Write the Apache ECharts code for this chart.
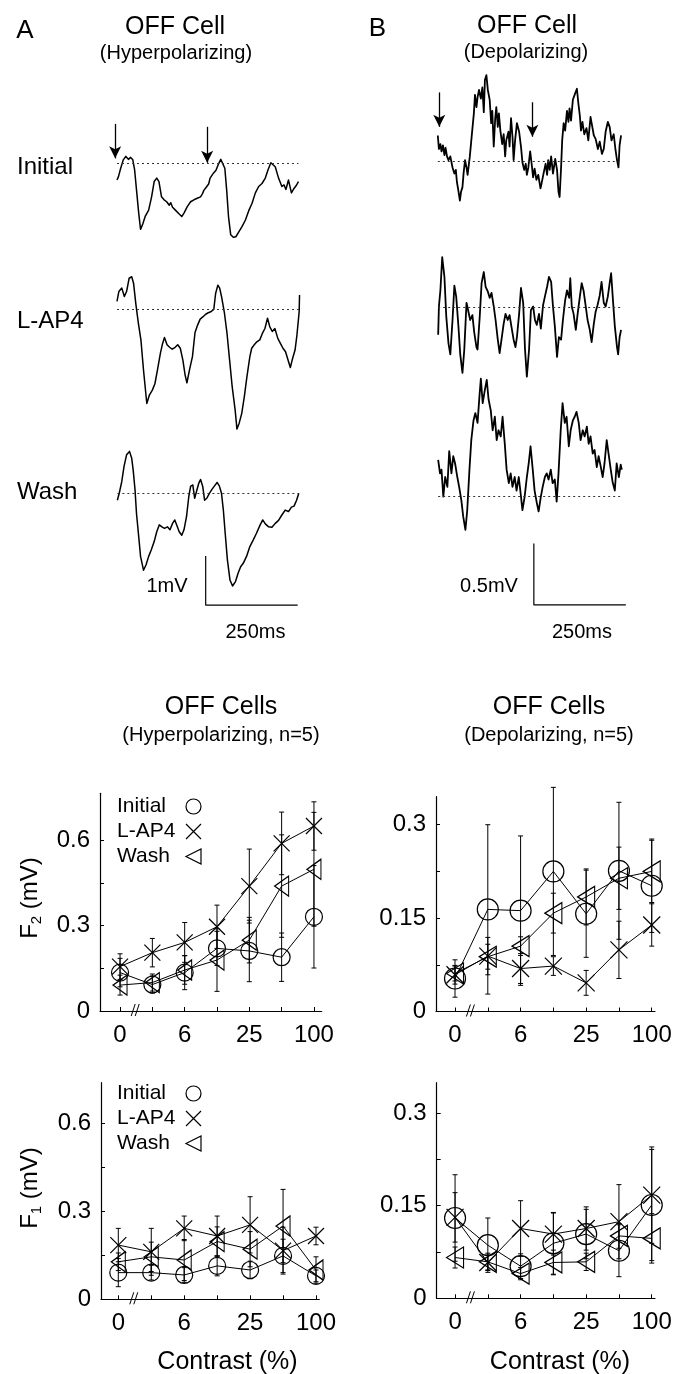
<!DOCTYPE html>
<html><head><meta charset="utf-8">
<script src="https://cdn.jsdelivr.net/npm/echarts@6/dist/echarts.min.js"></script>
<style>html,body{margin:0;padding:0;background:#fff}#c{width:680px;height:1374px}</style>
</head><body><div id="c"></div>
<script>
// ---------------- DATA ----------------
// Voltage traces: [time (ms), voltage relative to resting baseline (mV)]
const aInitial = [[0,-0.34],[4,-0.27],[10,-0.10],[17,0.07],[24,0.14],[31,0.08],[37,0.12],[43,0.07],[48,-0.14],[53,-0.54],[59,-1.01],[64,-1.34],[70,-1.23],[77,-1.07],[86,-0.95],[94,-0.68],[101,-0.37],[108,-0.30],[114,-0.37],[121,-0.68],[128,-0.74],[135,-0.78],[142,-0.85],[146,-0.80],[151,-0.89],[156,-0.86],[160,-0.96],[165,-0.93],[169,-1.03],[176,-1.08],[182,-1.01],[191,-0.88],[196,-0.84],[200,-0.78],[205,-0.80],[209,-0.74],[214,-0.76],[218,-0.71],[222,-0.73],[227,-0.68],[232,-0.62],[236,-0.55],[240,-0.57],[244,-0.47],[249,-0.42],[253,-0.30],[258,-0.28],[262,-0.20],[269,-0.14],[276,-0.01],[282,0.08],[287,0.12],[293,-0.10],[298,-0.54],[303,-1.08],[309,-1.45],[316,-1.50],[323,-1.49],[331,-1.39],[340,-1.28],[345,-1.24],[349,-1.15],[358,-0.96],[363,-0.92],[367,-0.81],[376,-0.60],[380,-0.62],[385,-0.47],[390,-0.49],[394,-0.41],[403,-0.30],[410,-0.14],[418,0.01],[423,0.04],[430,-0.07],[439,-0.30],[448,-0.47],[454,-0.44],[459,-0.53],[466,-0.34],[474,-0.60],[481,-0.51],[488,-0.44],[493,-0.37]];
const aLap4 = [[0,0.16],[5,0.36],[13,0.43],[20,0.26],[26,0.36],[33,0.63],[40,0.66],[45,0.53],[51,0.12],[58,-0.28],[65,-0.62],[72,-1.23],[81,-1.91],[88,-1.74],[96,-1.64],[103,-1.51],[110,-1.23],[118,-0.89],[123,-0.72],[129,-0.57],[136,-0.72],[143,-0.77],[150,-0.81],[158,-0.77],[165,-0.72],[172,-0.79],[179,-1.03],[185,-1.33],[190,-1.49],[197,-1.23],[205,-0.96],[212,-0.47],[219,-0.32],[226,-0.20],[234,-0.15],[241,-0.10],[248,-0.07],[255,-0.05],[263,0.0],[268,0.32],[274,0.49],[279,0.43],[284,0.26],[292,-0.08],[299,-0.49],[306,-1.03],[313,-1.57],[321,-2.04],[326,-2.43],[332,-2.31],[339,-2.11],[346,-1.77],[353,-1.37],[361,-0.96],[366,-0.79],[373,-0.72],[380,-0.66],[388,-0.62],[395,-0.49],[402,-0.39],[409,-0.18],[415,-0.35],[422,-0.45],[429,-0.39],[437,-0.59],[444,-0.69],[451,-0.79],[458,-0.86],[466,-1.06],[471,-1.18],[476,-1.03],[484,-0.82],[489,-0.52],[495,-0.05],[496,0.29]];
const aWash = [[1,-0.14],[6,0],[13,0.24],[19,0.54],[26,0.78],[34,0.85],[40,0.71],[44,0.47],[49,0.07],[53,-0.41],[59,-0.88],[64,-1.28],[72,-1.56],[79,-1.45],[86,-1.28],[93,-1.15],[101,-0.98],[108,-0.78],[115,-0.64],[122,-0.68],[129,-0.71],[137,-0.68],[144,-0.74],[151,-0.61],[157,-0.54],[162,-0.64],[169,-0.78],[176,-0.85],[182,-0.74],[189,-0.47],[195,-0.07],[200,0.14],[206,0.17],[211,-0.10],[216,-0.07],[222,0.20],[227,0.28],[233,0.14],[238,-0.14],[244,-0.10],[251,0],[258,0.08],[265,0.15],[272,0.22],[278,0.15],[284,0],[289,-0.34],[294,-0.81],[300,-1.35],[307,-1.76],[314,-1.88],[322,-1.79],[329,-1.62],[336,-1.49],[343,-1.42],[352,-1.28],[361,-1.08],[370,-0.95],[379,-0.81],[389,-0.64],[396,-0.54],[403,-0.62],[412,-0.68],[421,-0.69],[430,-0.61],[439,-0.55],[448,-0.44],[457,-0.34],[466,-0.37],[474,-0.28],[481,-0.26],[488,-0.14],[494,0]];
const bInitial = [[3,0.21],[6,0.10],[10,0.14],[13,0.08],[17,0.13],[21,0.05],[24,0.11],[28,0.04],[32,0.01],[37,0.04],[43,-0.05],[48,-0.10],[52,-0.07],[55,-0.17],[59,-0.24],[63,-0.32],[66,-0.25],[70,-0.21],[73,-0.10],[77,0.01],[81,-0.05],[84,-0.11],[90,0.04],[95,0.20],[101,0.39],[104,0.54],[108,0.44],[111,0.52],[115,0.58],[120,0.51],[124,0.60],[128,0.40],[131,0.66],[135,0.70],[139,0.58],[144,0.50],[148,0.31],[151,0.41],[155,0.12],[159,0.35],[162,0.44],[166,0.28],[169,0.39],[173,0.25],[178,0.14],[182,0.22],[186,0.04],[189,0.17],[195,0.24],[198,0.12],[202,0.35],[206,0.20],[209,0.01],[213,0.17],[218,0.31],[224,0.24],[229,0.12],[233,-0.01],[238,-0.07],[242,-0.02],[245,-0.11],[249,-0.05],[254,0.08],[258,-0.02],[262,-0.13],[266,-0.06],[271,-0.15],[276,-0.11],[282,-0.22],[285,-0.18],[291,-0.09],[296,-0.02],[300,-0.11],[303,0.01],[307,-0.07],[311,0.04],[316,-0.10],[322,0.02],[327,-0.07],[331,-0.25],[334,-0.29],[338,-0.05],[341,0.17],[345,0.31],[349,0.25],[354,0.41],[358,0.32],[361,0.43],[365,0.33],[370,0.50],[376,0.55],[381,0.59],[385,0.47],[389,0.37],[392,0.25],[396,0.32],[401,0.22],[407,0.27],[412,0.17],[418,0.36],[421,0.31],[427,0.21],[432,0.18],[438,0.10],[443,0.16],[449,0.06],[454,0.10],[459,0.24],[465,0.32],[470,0.28],[475,0.17],[481,0.22],[486,0.09],[490,0.01],[494,-0.05],[497,0.13],[501,0.21]];
const bLap4 = [[4,-0.22],[6,0.01],[10,0.14],[15,0.41],[21,0.25],[26,-0.07],[32,-0.29],[37,-0.38],[43,-0.10],[48,0.18],[53,0.09],[59,-0.15],[64,-0.38],[70,-0.53],[75,-0.34],[81,0.04],[86,0.05],[91,-0.10],[97,-0.06],[102,-0.20],[108,-0.32],[111,-0.34],[117,-0.07],[122,0.20],[128,0.29],[133,0.17],[139,0.13],[144,0.08],[149,0.12],[155,0.01],[160,-0.10],[166,-0.26],[171,-0.37],[177,-0.24],[182,-0.13],[187,-0.05],[193,-0.10],[198,-0.06],[204,-0.17],[209,-0.26],[214,-0.32],[218,-0.24],[224,-0.05],[229,0.16],[235,0.04],[240,-0.34],[245,-0.56],[251,-0.34],[256,-0.02],[262,0.01],[267,-0.10],[272,-0.14],[278,-0.05],[283,-0.17],[289,0.02],[294,0.09],[300,0.17],[305,0.25],[311,0.21],[316,0.01],[321,-0.15],[327,-0.40],[332,-0.24],[338,-0.26],[343,-0.10],[349,0.06],[354,0.14],[360,0.08],[363,0.24],[367,0.01],[372,-0.05],[378,-0.18],[383,-0.05],[389,0.09],[394,0.20],[399,0.14],[405,0.01],[410,-0.10],[416,-0.18],[421,-0.28],[427,-0.13],[432,-0.03],[437,0.02],[443,0.10],[448,0.21],[454,0.04],[459,0.01],[465,0.09],[470,0.20],[474,0.28],[479,0.06],[484,-0.15],[490,-0.32],[493,-0.38],[497,-0.24],[501,-0.18]];
const bWash = [[4,0.30],[9,0.19],[13,0.22],[18,0.0],[23,0.16],[29,0.08],[34,0.37],[40,0.19],[45,0.33],[50,0.27],[56,0.16],[61,0.08],[67,-0.03],[72,-0.16],[78,-0.27],[83,-0.11],[89,0.22],[94,0.46],[100,0.62],[105,0.68],[111,0.60],[116,0.81],[120,0.96],[125,0.76],[131,0.87],[136,0.95],[141,0.79],[147,0.70],[152,0.54],[158,0.65],[163,0.46],[168,0.54],[174,0.49],[179,0.65],[185,0.43],[190,0.22],[196,0.11],[201,0.19],[206,0.08],[212,0.16],[217,0.05],[223,0.16],[228,0.03],[233,-0.11],[239,0.0],[245,0.16],[250,0.27],[255,0.41],[261,0.22],[266,0.05],[272,-0.05],[277,-0.12],[283,0.0],[288,0.08],[294,0.16],[299,0.19],[304,0.14],[310,0.22],[315,0.11],[321,0.14],[326,-0.04],[331,0.19],[337,0.54],[342,0.76],[348,0.60],[353,0.65],[359,0.41],[364,0.54],[370,0.62],[375,0.65],[380,0.69],[386,0.60],[391,0.46],[397,0.54],[402,0.49],[408,0.57],[413,0.43],[418,0.49],[424,0.35],[429,0.38],[435,0.24],[440,0.33],[446,0.24],[451,0.16],[456,0.27],[462,0.46],[467,0.35],[473,0.22],[478,0.12],[484,0.05],[489,0.27],[495,0.16],[500,0.26],[503,0.22]];

// Stimulus arrows: [time (ms), arrow top (mV), arrow tip (mV)]
const stimA = [[-5, 0.80, 0.10], [245, 0.74, 0.01]];
const stimB = [[7, 0.56, 0.28], [260, 0.48, 0.20]];
// Scale bars: start time, start voltage, duration, amplitude
const scaleA = {t0: 241, v0: -2.27, dt: 250, dv: 1};
const scaleB = {t0: 264, v0: -0.88, dt: 250, dv: 0.5};

// Contrast categories (7 levels, only 4 labelled)
const contrastIndex = [0, 1, 2, 3, 4, 5, 6];
const contrastTickLabels = ['0', '', '6', '', '25', '', '100'];
const contrastLabelIndex = [0, 2, 4, 6];
const conditions = ['Initial', 'L-AP4', 'Wash'];

// F2, hyperpolarizing OFF cells (mean, SEM, mV)
const f2HypInitial = [0.135, 0.093, 0.135, 0.220, 0.211, 0.189, 0.331];
const f2HypInitialErr = [0.050, 0.030, 0.060, 0.060, 0.108, 0.085, 0.180];
const f2HypLap4 = [0.156, 0.205, 0.241, 0.296, 0.439, 0.589, 0.650];
const f2HypLap4Err = [0.045, 0.050, 0.070, 0.076, 0.130, 0.110, 0.085];
const f2HypWash = [0.091, 0.100, 0.144, 0.179, 0.249, 0.439, 0.498];
const f2HypWashErr = [0.035, 0.030, 0.050, 0.110, 0.080, 0.180, 0.200];
// F2, depolarizing OFF cells
const f2DepInitial = [0.053, 0.164, 0.162, 0.225, 0.157, 0.226, 0.202];
const f2DepInitialErr = [0.030, 0.136, 0.120, 0.135, 0.070, 0.110, 0.075];
const f2DepLap4 = [0.059, 0.089, 0.069, 0.073, 0.046, 0.099, 0.139];
const f2DepLap4Err = [0.015, 0.030, 0.024, 0.015, 0.020, 0.046, 0.034];
const f2DepWash = [0.061, 0.088, 0.105, 0.158, 0.184, 0.214, 0.225];
const f2DepWashErr = [0.012, 0.020, 0.015, 0.032, 0.045, 0.050, 0.050];
// F1, hyperpolarizing OFF cells
const f1HypInitial = [0.091, 0.091, 0.083, 0.114, 0.100, 0.148, 0.080];
const f1HypInitialErr = [0.048, 0.025, 0.025, 0.034, 0.030, 0.057, 0.020];
const f1HypLap4 = [0.185, 0.162, 0.242, 0.216, 0.254, 0.166, 0.216];
const f1HypLap4Err = [0.057, 0.080, 0.042, 0.068, 0.096, 0.080, 0.030];
const f1HypWash = [0.128, 0.145, 0.134, 0.197, 0.171, 0.250, 0.100];
const f1HypWashErr = [0.030, 0.050, 0.070, 0.050, 0.060, 0.125, 0.045];
// F1, depolarizing OFF cells
const f1DepInitial = [0.130, 0.086, 0.052, 0.089, 0.104, 0.077, 0.151];
const f1DepInitialErr = [0.070, 0.044, 0.020, 0.050, 0.040, 0.042, 0.090];
const f1DepLap4 = [0.131, 0.058, 0.113, 0.104, 0.113, 0.124, 0.167];
const f1DepLap4Err = [0.040, 0.012, 0.045, 0.034, 0.035, 0.060, 0.078];
const f1DepWash = [0.066, 0.059, 0.040, 0.058, 0.059, 0.101, 0.097];
const f1DepWashErr = [0.017, 0.014, 0.010, 0.020, 0.014, 0.020, 0.040];

// y tick values
const hypTicks = [0, 0.15, 0.3, 0.45, 0.6];
const hypLabels = [0, 0.3, 0.6];
const depTicks = [0, 0.075, 0.15, 0.225, 0.3];
const depLabels = [0, 0.15, 0.3];

// ---------------- CHART ----------------
const FONT = "'Liberation Sans', Arial, Helvetica, sans-serif";
const chart = echarts.init(document.getElementById('c'), null, {renderer: 'canvas', width: 680, height: 1374});

const PX_PER_MS = 0.368, T_MIN = -20, T_MAX = 520;
function traceGrid(x0, baseY, pxPerMv, vMin, vMax) {
  return {left: x0 + T_MIN * PX_PER_MS, top: baseY - vMax * pxPerMv,
          width: (T_MAX - T_MIN) * PX_PER_MS, height: (vMax - vMin) * pxPerMv,
          outerBoundsMode: 'none', containLabel: false};
}
const grids = [
  traceGrid(117, 163.3, 49.3, -2.5, 1.5),
  traceGrid(117, 309.3, 49.3, -2.5, 1.5),
  traceGrid(117, 493.3, 49.3, -2.5, 1.5),
  traceGrid(436.7, 161.3, 123, -1, 1),
  traceGrid(436.7, 307.7, 123, -1, 1),
  traceGrid(436.7, 496.7, 123, -1, 1),
  {left: 100, top: 793.3, width: 221.7, height: 217.7, outerBoundsMode: 'none'},
  {left: 436, top: 796.7, width: 219, height: 214.8, outerBoundsMode: 'none'},
  {left: 101, top: 1082.7, width: 218.3, height: 216.6, outerBoundsMode: 'none'},
  {left: 436.7, top: 1082.7, width: 218.3, height: 215.6, outerBoundsMode: 'none'}
];
const traceYRange = [[-2.5, 1.5], [-2.5, 1.5], [-2.5, 1.5], [-1, 1], [-1, 1], [-1, 1]];

const xAxes = [], yAxes = [];
for (let i = 0; i < 6; i++) {
  xAxes.push({type: 'value', gridIndex: i, min: T_MIN, max: T_MAX, show: false});
  yAxes.push({type: 'value', gridIndex: i, min: traceYRange[i][0], max: traceYRange[i][1], show: false});
}
const axisLineStyle = {color: '#000', width: 1.2};
const plotSpecs = [
  {grid: 6, xmin: -0.62, xmax: 6.24, ymax: 0.765, ticks: hypTicks, labels: hypLabels, sym: [17, 16, [14, 20]],
   series: [[f2HypInitial, f2HypInitialErr], [f2HypLap4, f2HypLap4Err], [f2HypWash, f2HypWashErr]]},
  {grid: 7, xmin: -0.58, xmax: 6.10, ymax: 0.345, ticks: depTicks, labels: depLabels, sym: [21, 17, [17, 21]],
   series: [[f2DepInitial, f2DepInitialErr], [f2DepLap4, f2DepLap4Err], [f2DepWash, f2DepWashErr]]},
  {grid: 8, xmin: -0.525, xmax: 6.10, ymax: 0.739, ticks: hypTicks, labels: hypLabels, sym: [17, 16, [14, 20]],
   series: [[f1HypInitial, f1HypInitialErr], [f1HypLap4, f1HypLap4Err], [f1HypWash, f1HypWashErr]]},
  {grid: 9, xmin: -0.56, xmax: 6.10, ymax: 0.349, ticks: depTicks, labels: depLabels, sym: [21, 17, [17, 21]],
   series: [[f1DepInitial, f1DepInitialErr], [f1DepLap4, f1DepLap4Err], [f1DepWash, f1DepWashErr]]}
];
plotSpecs.forEach(p => {
  xAxes.push({type: 'value', gridIndex: p.grid, min: p.xmin, max: p.xmax,
    axisLine: {show: true, onZero: false, lineStyle: axisLineStyle},
    axisTick: {show: true, inside: true, length: 4, customValues: contrastIndex, lineStyle: {color: '#000'}},
    axisLabel: {show: true, customValues: contrastLabelIndex, formatter: v => contrastTickLabels[Math.round(v)],
      fontSize: 24, fontFamily: FONT, color: '#000', margin: 12},
    splitLine: {show: false}});
  yAxes.push({type: 'value', gridIndex: p.grid, min: 0, max: p.ymax,
    axisLine: {show: true, onZero: false, lineStyle: axisLineStyle},
    axisTick: {show: true, inside: true, length: 4, customValues: p.ticks, lineStyle: {color: '#000'}},
    axisLabel: {show: true, customValues: p.labels, formatter: v => String(v),
      fontSize: 24, fontFamily: FONT, color: '#000', margin: 10},
    splitLine: {show: false}});
});

const X_PATH = 'path://M0,0L10,10M10,0L0,10';
const TRI_PATH = 'path://M0,5L10,0L10,10Z';
const symbols = ['circle', X_PATH, TRI_PATH];

const series = [];
const traceSets = [
  {grid: 0, data: aInitial, stim: stimA, lw: 1.5},
  {grid: 1, data: aLap4, stim: null, lw: 1.5},
  {grid: 2, data: aWash, stim: null, lw: 1.5},
  {grid: 3, data: bInitial, stim: stimB, lw: 1.8},
  {grid: 4, data: bLap4, stim: null, lw: 1.8},
  {grid: 5, data: bWash, stim: null, lw: 1.8}
];
traceSets.forEach(t => {
  const first = t.data[0][0], last = t.data[t.data.length - 1][0];
  const ml = [[{coord: [first, 0], symbol: 'none', lineStyle: {type: [2, 3], width: 1, color: '#333'}},
               {coord: [last, 0], symbol: 'none'}]];
  (t.stim || []).forEach(s => {
    ml.push([{coord: [s[0], s[1]], symbol: 'none', lineStyle: {type: 'solid', width: 1.3, color: '#000'}},
             {coord: [s[0], s[2]], symbol: 'arrow', symbolSize: [9, 12]}]);
  });
  series.push({type: 'line', xAxisIndex: t.grid, yAxisIndex: t.grid, data: t.data,
    symbol: 'none', showSymbol: false, silent: true, animation: false,
    lineStyle: {color: '#000', width: t.lw, join: 'round'},
    markLine: {silent: true, animation: false, label: {show: false}, symbol: 'none', data: ml}});
});
// Scale bars
[[2, scaleA], [5, scaleB]].forEach(([g, s]) => {
  series.push({type: 'line', xAxisIndex: g, yAxisIndex: g, symbol: 'none', silent: true, animation: false,
    lineStyle: {color: '#000', width: 1.2},
    data: [[s.t0, s.v0 + s.dv], [s.t0, s.v0], [s.t0 + s.dt, s.v0]]});
});

function renderErr(params, api) {
  const x = api.value(0), lo = api.value(1), hi = api.value(2);
  const p1 = api.coord([x, lo]), p2 = api.coord([x, hi]);
  const w = 2.5, st = {stroke: '#000', lineWidth: 1};
  return {type: 'group', children: [
    {type: 'line', shape: {x1: p1[0], y1: p1[1], x2: p2[0], y2: p2[1]}, style: st},
    {type: 'line', shape: {x1: p1[0] - w, y1: p1[1], x2: p1[0] + w, y2: p1[1]}, style: st},
    {type: 'line', shape: {x1: p2[0] - w, y1: p2[1], x2: p2[0] + w, y2: p2[1]}, style: st}]};
}
function renderBreak(params, api) {
  const p = api.coord([api.value(0), api.value(1)]);
  const st = {stroke: '#000', lineWidth: 1};
  return {type: 'group', children: [
    {type: 'line', shape: {x1: p[0] - 5, y1: p[1] + 5, x2: p[0] - 1, y2: p[1] - 7}, style: st},
    {type: 'line', shape: {x1: p[0] - 1, y1: p[1] + 5, x2: p[0] + 3, y2: p[1] - 7}, style: st}]};
}

plotSpecs.forEach(p => {
  const errData = [];
  p.series.forEach(([mean, err]) => mean.forEach((m, i) => errData.push([contrastIndex[i], m - err[i], m + err[i]])));
  series.push({type: 'custom', xAxisIndex: p.grid, yAxisIndex: p.grid, renderItem: renderErr,
    data: errData, silent: true, clip: false, z: 2, animation: false});
  p.series.forEach(([mean], k) => {
    series.push({name: conditions[k], type: 'line', xAxisIndex: p.grid, yAxisIndex: p.grid,
      data: mean.map((m, i) => [contrastIndex[i], m]),
      symbol: symbols[k], symbolSize: p.sym[k], showSymbol: true, showAllSymbol: true,
      lineStyle: {color: '#000', width: 1},
      itemStyle: {color: 'transparent', borderColor: '#000', borderWidth: 1.2},
      emphasis: {disabled: true}, silent: true, animation: false, z: 3});
  });
  series.push({type: 'custom', xAxisIndex: p.grid, yAxisIndex: p.grid, renderItem: renderBreak,
    data: [[0.5, 0]], silent: true, clip: false, z: 4, animation: false});
});

function makeLegend(top) {
  return {left: 117, top: top, orient: 'vertical', align: 'right', itemGap: 4, itemWidth: 15, itemHeight: 15,
    selectedMode: false, padding: 0,
    formatter: name => '{n|' + name + '}',
    textStyle: {fontSize: 21, fontFamily: FONT, color: '#000', lineHeight: 20,
      rich: {n: {fontSize: 21, fontFamily: FONT, color: '#000', width: 64, align: 'left', lineHeight: 20}}},
    itemStyle: {color: 'transparent', borderColor: '#000', borderWidth: 1.2},
    data: conditions.map((c, k) => ({name: c, icon: symbols[k]}))};
}

const texts = [
  ['A', 25, 31, 26, 'center'],
  ['OFF Cell', 175, 27, 25, 'center'],
  ['(Hyperpolarizing)', 176, 53, 20, 'center'],
  ['B', 377.5, 29, 26, 'center'],
  ['OFF Cell', 527, 26, 25, 'center'],
  ['(Depolarizing)', 526, 52, 20, 'center'],
  ['Initial', 17, 167, 24, 'left'],
  ['L-AP4', 17, 321, 24, 'left'],
  ['Wash', 17, 492, 24, 'left'],
  ['1mV', 167, 586, 20, 'center'],
  ['250ms', 255.5, 632, 20, 'center'],
  ['0.5mV', 489, 586, 20, 'center'],
  ['250ms', 582, 632, 20, 'center'],
  ['OFF Cells', 221, 707, 25, 'center'],
  ['(Hyperpolarizing, n=5)', 221, 735, 20, 'center'],
  ['OFF Cells', 549, 707, 25, 'center'],
  ['(Depolarizing, n=5)', 549, 735, 20, 'center'],
  ['Contrast (%)', 227.5, 1362, 25, 'center'],
  ['Contrast (%)', 560, 1362, 25, 'center']
];
const graphic = texts.map(([t, x, y, fs, al]) => ({type: 'text', x: x, y: y, silent: true,
  style: {text: t, fontSize: fs, fontFamily: FONT, fill: '#000', align: al, verticalAlign: 'middle'}}));
[['2', 30, 898], ['1', 30, 1188]].forEach(([s, x, y]) => {
  graphic.push({type: 'text', x: x, y: y, rotation: Math.PI / 2, silent: true,
    style: {text: '{a|F}{s|' + s + '}{a| (mV)}', align: 'center', verticalAlign: 'middle',
      rich: {a: {fontSize: 24, fontFamily: FONT, fill: '#000', lineHeight: 28},
             s: {fontSize: 15, fontFamily: FONT, fill: '#000', lineHeight: 12, verticalAlign: 'bottom'}}}});
});

chart.setOption({
  backgroundColor: '#fff',
  animation: false,
  textStyle: {fontFamily: FONT},
  grid: grids,
  xAxis: xAxes,
  yAxis: yAxes,
  legend: [makeLegend(796), makeLegend(1083)],
  series: series,
  graphic: graphic
});
</script></body></html>
